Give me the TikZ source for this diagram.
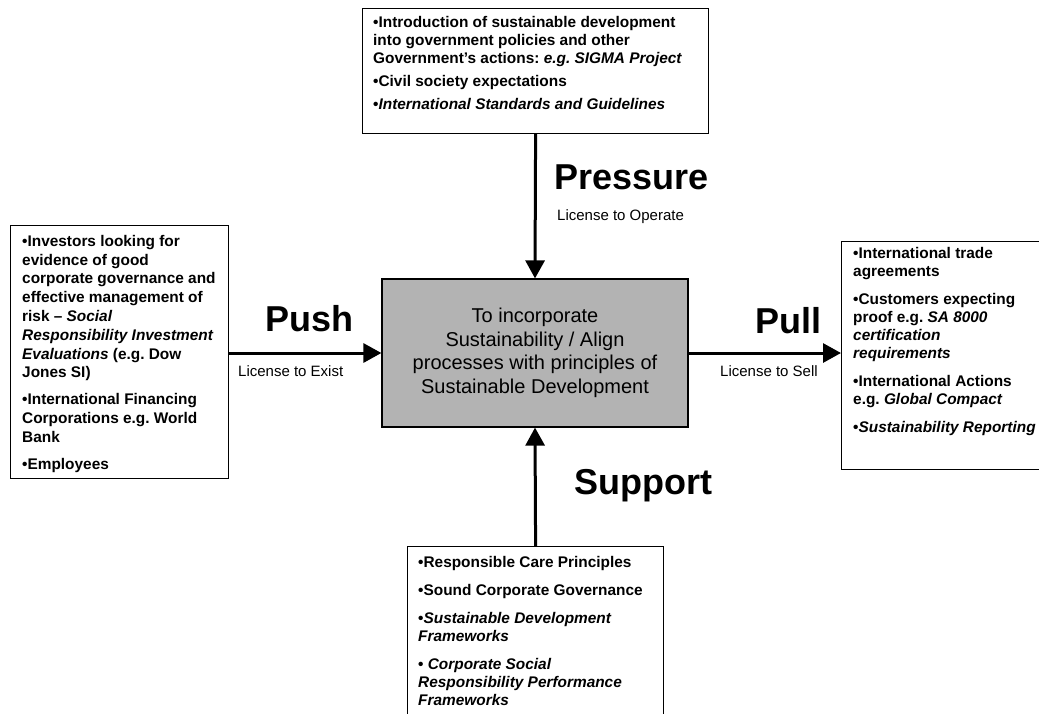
\documentclass[tikz,border=0pt]{standalone}
\usepackage{fontspec}
\setmainfont{Liberation Sans}
\usetikzlibrary{positioning,arrows.meta}
\definecolor{coregray}{RGB}{179,179,179}
\frenchspacing
\tikzset{
  frame/.style={draw, line width=1.2pt, inner sep=0pt, anchor=north west},
  boxtext/.style={anchor=north west, inner sep=0pt, align=left,
    font=\fontsize{15.4}{#1}\selectfont\bfseries},
  boxtext/.default=18,
  force/.style={line width=3pt, -{Triangle[length=18pt,width=19pt]}},
  bigword/.style={anchor=base west, inner sep=0pt, font=\fontsize{36}{36}\selectfont\bfseries},
  licence/.style={anchor=base west, inner sep=0pt, font=\fontsize{15}{18}\selectfont}
}
\begin{document}
\begin{tikzpicture}[x=1pt,y=-1pt]
\useasboundingbox (0,0) rectangle (1039,713);
% the four frames
\node[frame, minimum width=346pt, minimum height=125pt] (pressurebox) at (362,8) {};
\node[frame, minimum width=218pt, minimum height=253pt] (pushbox) at (10,225) {};
\node[frame, minimum width=230pt, minimum height=228pt] (pullbox) at (841,241) {};
\node[frame, minimum width=256pt, minimum height=190pt] (supportbox) at (407,546) {};
% core box
\node[draw, fill=coregray, line width=1.2pt, minimum width=306pt, minimum height=148pt,
  align=center, font=\fontsize{20}{23.5}\selectfont] (core) at (535,353)
  {To incorporate\\Sustainability / Align\\processes with principles of\\Sustainable Development};
% texts
\node[boxtext, below right=8pt and 11pt of pressurebox.north west] (pressuretext)
  {•Introduction of sustainable development\\into government policies and other\\
   Government’s actions: \textit{e.g. SIGMA Project}\\[5pt]
   •Civil society expectations\\[5pt]
   •\textit{International Standards and Guidelines}};
\node[boxtext=18.8, below right=10pt and 12pt of pushbox.north west] (pushtext)
  {•Investors looking for\\evidence of good\\corporate governance and\\effective management of\\
   risk – \textit{Social}\\\textit{Responsibility Investment}\\\textit{Evaluations} (e.g. Dow\\Jones SI)\\[8pt]
   •International Financing\\Corporations e.g. World\\Bank\\[8pt]
   •Employees};
\node[boxtext, below right=6pt and 12pt of pullbox.north west] (pulltext)
  {•International trade\\agreements\\[10pt]
   •Customers expecting\\proof e.g. \textit{SA 8000}\\\textit{certification}\\\textit{requirements}\\[10pt]
   •International Actions\\e.g. \textit{Global Compact}\\[10pt]
   •\textit{Sustainability Reporting}};
\node[boxtext, below right=10pt and 11pt of supportbox.north west] (supporttext)
  {•Responsible Care Principles\\[10pt]
   •Sound Corporate Governance\\[10pt]
   •\textit{Sustainable Development}\\\textit{Frameworks}\\[10pt]
   • \textit{Corporate Social}\\\textit{Responsibility Performance}\\\textit{Frameworks}};
% arrows
\draw[force] (pressurebox.south) -- (core.north);
\draw[force] (supportbox.north) -- (core.south);
\draw[force] (core.west -| pushbox.east) -- (core.west);
\draw[force] (core.east) -- (core.east -| pullbox.west);
% labels
\node[bigword] (pressure) at (554,189) {Pressure};
\node[licence] (operate) at (557,220) {License to Operate};
\node[bigword] (push) at (265,331) {Push};
\node[licence] (exist) at (238,376) {License to Exist};
\node[bigword] (pull) at (755,333) {Pull};
\node[licence] (sell) at (720,376) {License to Sell};
\node[bigword] (support) at (574,494) {Support};
\end{tikzpicture}
\end{document}
